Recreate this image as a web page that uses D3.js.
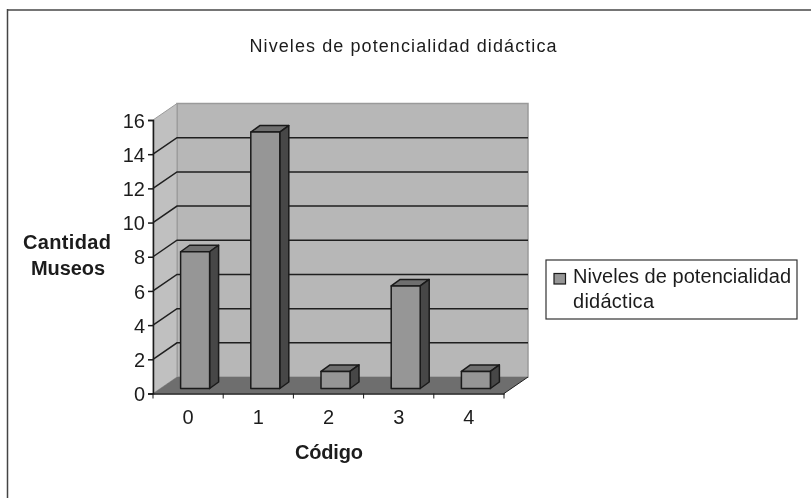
<!DOCTYPE html>
<html>
<head>
<meta charset="utf-8">
<script src="https://cdn.jsdelivr.net/npm/d3@7"></script>
<style>
    html, body { margin: 0; padding: 0; background: #fff; }
    svg { display: block; filter: blur(0.35px); }
    text { font-family: "Liberation Sans", Arial, sans-serif; fill: #1c1c1c; }
</style>
</head>
<body>
<svg id="chart" width="811" height="498"></svg>
<script>
var categories = ["0", "1", "2", "3", "4"];
var museos = [8, 15, 1, 6, 1];
var yTicks = [0, 2, 4, 6, 8, 10, 12, 14, 16];
var chartTitle = "Niveles de potencialidad didáctica";
var legendLines = ["Niveles de potencialidad", "didáctica"];

var svg = d3.select("#chart");

// frame of the original screenshot, only top and left are visible
svg.append("line").attr("x1", 7).attr("x2", 811).attr("y1", 10).attr("y2", 10)
    .attr("stroke", "#757575").attr("stroke-width", 2);
svg.append("line").attr("x1", 7.5).attr("x2", 7.5).attr("y1", 9).attr("y2", 498)
    .attr("stroke", "#444").attr("stroke-width", 1.5);

var x = d3.scaleBand().domain(categories).range([153, 504]);
var y = d3.scaleLinear().domain([0, 16]).range([393.5, 120]);

// depth of the 3d box, and where the bars stand inside it
var depthX = 24, depthY = -16.5;
var barInX = 7, barInY = -5, barDepthX = 9, barDepthY = -6.5;
var barWidth = 29;

var left = x.range()[0], right = x.range()[1];

function poly(points, fill) {
    return svg.append("polygon")
        .attr("points", points.map(function (p) { return p.join(","); }).join(" "))
        .attr("fill", fill);
}

// walls
poly([[left + depthX, y(16) + depthY], [right + depthX, y(16) + depthY], [right + depthX, y(0) + depthY], [left + depthX, y(0) + depthY]], "#b7b7b7")
    .attr("stroke", "#9a9a9a").attr("stroke-width", 1.5);
poly([[left, y(16)], [left + depthX, y(16) + depthY], [left + depthX, y(0) + depthY], [left, y(0)]], "#c0c0c0")
    .attr("stroke", "#9a9a9a").attr("stroke-width", 1);
poly([[left, y(0)], [left + depthX, y(0) + depthY], [right + depthX, y(0) + depthY], [right, y(0)]], "#6e6e6e");

// gridlines, skipped at 0 and 16
var grid = svg.append("g").attr("fill", "none").attr("stroke", "#1f1f1f").attr("stroke-width", 1.5);
yTicks.slice(1, -1).forEach(function (t) {
    grid.append("polyline")
        .attr("points", [[left, y(t)], [left + depthX, y(t) + depthY], [right + depthX, y(t) + depthY]].join(" "));
});

// bars
var bars = svg.selectAll(".bar").data(museos).enter().append("g").attr("class", "bar")
    .attr("stroke", "#1a1a1a").attr("stroke-width", 1.5).attr("stroke-linejoin", "round");
bars.each(function (d, i) {
    var g = d3.select(this);
    var x0 = x(categories[i]) + x.bandwidth() / 2 + barInX - barWidth / 2,
        x1 = x0 + barWidth,
        yb = y(0) + barInY,
        yt = y(d) + barInY;
    g.append("polygon").attr("fill", "#6f6f6f")
        .attr("points", [[x0, yt], [x0 + barDepthX, yt + barDepthY], [x1 + barDepthX, yt + barDepthY], [x1, yt]].join(" "));
    g.append("polygon").attr("fill", "#474747")
        .attr("points", [[x1, yt], [x1 + barDepthX, yt + barDepthY], [x1 + barDepthX, yb + barDepthY], [x1, yb]].join(" "));
    g.append("rect").attr("fill", "#969696")
        .attr("x", x0).attr("y", yt).attr("width", barWidth).attr("height", yb - yt);
});

// right end of the floor edge
svg.append("line").attr("x1", right).attr("y1", y(0)).attr("x2", right + depthX).attr("y2", y(0) + depthY)
    .attr("stroke", "#1f1f1f").attr("stroke-width", 1);

// axes
var yAxis = d3.axisLeft(y).tickValues(yTicks).tickSize(5).tickPadding(3);
var gy = svg.append("g").attr("transform", "translate(" + left + ",0)").call(yAxis);
gy.selectAll("text").style("font-size", "20px").attr("dy", "0.36em");

var xAxis = d3.axisBottom(x).tickSize(0).tickPadding(16);
var gx = svg.append("g").attr("transform", "translate(0," + y(0) + ")").call(xAxis);
gx.selectAll("text").style("font-size", "20px");
// ticks sit on the band edges
gx.selectAll(".edge").data(categories.concat("end")).enter().append("line").attr("class", "edge")
    .attr("x1", function (d, i) { return left + i * x.bandwidth(); })
    .attr("x2", function (d, i) { return left + i * x.bandwidth(); })
    .attr("y1", 0).attr("y2", 5).attr("stroke", "#1a1a1a");
svg.selectAll(".domain, .tick line").attr("stroke", "#1a1a1a").attr("stroke-width", 1.5);
svg.selectAll("g text").attr("font-family", null);

// title and axis labels
svg.append("text").attr("x", 403).attr("y", 52).attr("text-anchor", "middle")
    .attr("textLength", 307).attr("font-size", 18).text(chartTitle);
svg.append("text").attr("x", 67).attr("y", 249).attr("text-anchor", "middle")
    .attr("font-size", 20).attr("font-weight", "bold").attr("textLength", 88).text("Cantidad");
svg.append("text").attr("x", 68).attr("y", 275).attr("text-anchor", "middle")
    .attr("font-size", 20).attr("font-weight", "bold").attr("textLength", 74).text("Museos");
svg.append("text").attr("x", 329).attr("y", 459).attr("text-anchor", "middle")
    .attr("font-size", 20).attr("font-weight", "bold").attr("textLength", 68).text("Código");

// legend
var legend = svg.append("g");
legend.append("rect").attr("x", 546).attr("y", 260).attr("width", 251).attr("height", 59)
    .attr("fill", "#fff").attr("stroke", "#333").attr("stroke-width", 1.2);
legend.append("rect").attr("x", 554).attr("y", 273.5).attr("width", 11.5).attr("height", 10.5)
    .attr("fill", "#969696").attr("stroke", "#1a1a1a").attr("stroke-width", 1.2);
legend.selectAll(".legend-line").data(legendLines).enter().append("text")
    .attr("class", "legend-line")
    .attr("x", 573)
    .attr("y", function (d, i) { return 283 + i * 25; })
    .attr("font-size", 20)
    .attr("textLength", function (d, i) { return i === 0 ? 218 : 81; })
    .text(function (d) { return d; });
</script>
</body>
</html>
